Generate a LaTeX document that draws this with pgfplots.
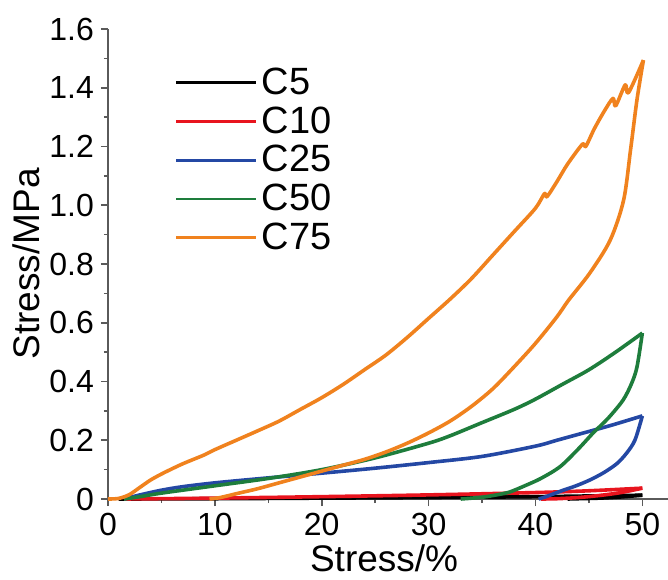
\documentclass[border=0pt]{standalone}
\usepackage{fontspec}
\setmainfont{Liberation Sans}
\usepackage{pgfplots}
\pgfplotsset{compat=1.18}

\definecolor{cfive}{HTML}{000000}
\definecolor{cten}{HTML}{E8141E}
\definecolor{ctwentyfive}{HTML}{2448A4}
\definecolor{cfifty}{HTML}{1E7D3C}
\definecolor{cseventyfive}{HTML}{F0821E}
\definecolor{axgray}{HTML}{5A5A5A}

\begin{document}
\begin{tikzpicture}
\useasboundingbox (-54pt,-40pt) rectangle (280pt,249.5pt);
\begin{axis}[
    scale only axis,
    width=280pt, height=235pt,
    xmin=0, xmax=52.4,
    ymin=0, ymax=1.6,
    axis x line=bottom, axis y line=left,
    axis line style={-, axgray, line width=0.8pt},
    xtick={0,10,...,50},
    ytick={0,0.2,...,1.6},
    yticklabels={0,0.2,0.4,0.6,0.8,1.0,1.2,1.4,1.6},
    minor x tick num=1, minor y tick num=1,
    tick align=outside,
    major tick length=3.5pt, minor tick length=2pt,
    tick style={axgray, line width=0.8pt},
    /pgf/number format/assume math mode=true,
    ticklabel style={font=\fontsize{16}{18}\selectfont},
    xlabel={Stress/\%},
    ylabel={Stress/MPa},
    label style={font=\fontsize{18.5}{21}\selectfont},
    xlabel style={at={(axis description cs:0.493,-0.126)}, anchor=center},
    ylabel style={at={(axis description cs:-0.146,0.5)}, anchor=center},
    clip=false,
    every axis plot/.append style={line width=1.8pt, line join=round, smooth, tension=0.5},
    legend cell align=left,
    legend style={draw=none, fill=none, font=\fontsize{19}{21}\selectfont,
        at={(axis description cs:0.108,0.935)}, anchor=north west,
        row sep=0.6pt, nodes={inner sep=2pt}},
    legend image code/.code={\draw[#1, line width=1.4pt] (-4pt,0pt) -- (36pt,0pt);},
]
% C5
\addplot[cfive] coordinates {
(1,0) (10,0.001) (20,0.003) (30,0.005) (40,0.008) (50,0.013)
};
\addlegendentry{C5}
\addplot[cfive, forget plot] coordinates {
(50,0.013) (48,0.007) (46,0.003) (44,0.001) (43,0)
};
% C10
\addplot[cten] coordinates {
(1.5,0) (10,0.003) (20,0.008) (30,0.014) (40,0.022) (45,0.028) (50,0.037)
};
\addlegendentry{C10}
\addplot[cten, forget plot] coordinates {
(50,0.037) (48,0.022) (46,0.012) (44,0.005) (42,0.001) (40.5,0)
};
% C25
\addplot[ctwentyfive] coordinates {
(1.5,0) (2,0.005) (3,0.014) (5,0.03) (7,0.042) (10,0.055) (15,0.072) (20,0.088)
(25,0.105) (30,0.124) (35,0.145) (40,0.18) (42,0.2) (44.5,0.225) (47,0.25) (50,0.283)
};
\addlegendentry{C25}
\addplot[ctwentyfive, forget plot] coordinates {
(50,0.283) (49.3,0.2) (48.5,0.155) (47.6,0.12) (46.4,0.09) (45.1,0.065) (43.8,0.045) (42.6,0.03)
(41.5,0.015) (41,0.008) (40.3,0)
};
% C50
\addplot[cfifty] coordinates {
(1.5,0) (3,0.008) (5,0.02) (10,0.045) (15,0.07) (20,0.1) (25,0.14) (30,0.19)
(32,0.215) (35,0.26) (38,0.305) (40,0.34) (42.5,0.39) (45,0.44) (47.5,0.5) (50,0.565)
};
\addlegendentry{C50}
\addplot[cfifty, forget plot] coordinates {
(50,0.565) (49.5,0.45) (49,0.394) (48.2,0.337) (46.8,0.275) (45.4,0.225) (44,0.17) (42.3,0.11)
(40.5,0.07) (39,0.045) (37.6,0.024) (36.5,0.015) (35,0.006) (33,0)
};
% C75
\addplot[cseventyfive] coordinates {
(0,0) (1,0.002) (2,0.015) (3,0.04) (4,0.065) (5,0.085) (6,0.103) (7,0.12)
(8,0.135) (9,0.15) (10,0.168) (12,0.2) (14,0.232) (16,0.265) (18,0.305)
(20,0.345) (22,0.39) (24,0.44) (26,0.49) (28,0.55) (30,0.615) (32,0.68)
(34,0.75) (36,0.83) (38,0.91) (40,0.99) (40.85,1.04) (41.07,1.029) (42,1.08)
(43,1.14) (44.4,1.208) (44.7,1.2) (45.5,1.26) (46.4,1.318) (47.25,1.364)
(47.5,1.338) (48.4,1.41) (48.7,1.383) (50.1,1.494)
};
\addlegendentry{C75}
\addplot[cseventyfive, forget plot] coordinates {
(50.1,1.494) (49.5,1.36) (48.9,1.19) (48.25,1.018) (47,0.882) (45.1,0.77) (43.1,0.677)
(42,0.62) (40,0.53) (38,0.45) (36,0.375) (34,0.315) (32,0.265) (30,0.225)
(28,0.19) (26,0.16) (24,0.135) (22,0.115) (20,0.095) (18,0.075) (16,0.055)
(14,0.035) (12,0.018) (10.5,0.005) (9.5,0)
};
\end{axis}
\end{tikzpicture}
\end{document}
